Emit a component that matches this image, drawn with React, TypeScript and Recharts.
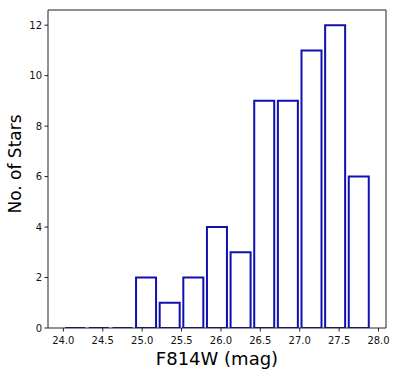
import React from "react";
import { BarChart, Bar, XAxis, YAxis, Label } from "recharts";

// histogram bins (centre of each 0.3 mag bin) and star counts
const magCenters = [24.15, 24.45, 24.75, 25.05, 25.35, 25.65, 25.95, 26.25, 26.55, 26.85, 27.15, 27.45, 27.75];
const starCounts = [0, 0, 0, 2, 1, 2, 4, 3, 9, 9, 11, 12, 6];
const xTicks = [24.0, 24.5, 25.0, 25.5, 26.0, 26.5, 27.0, 27.5, 28.0];
const yTicks = [0, 2, 4, 6, 8, 10, 12];

const data = magCenters.map((c, i) => ({ center: c, count: starCounts[i] }));

const EDGE = "#1010b0";
const AXIS = "#222";
const FONT = "DejaVu Sans";

// open rectangle, drawn as a path so empty bins still show a flat line
const OutlineBar = (props: any) => {
  const { x, y, width, height } = props;
  const d = `M${x},${y + height} L${x},${y} L${x + width},${y} L${x + width},${y + height} Z`;
  return <path d={d} fill="#fff" stroke={EDGE} strokeWidth={2} />;
};

const YTitle = () => (
  <text
    x={15}
    y={164}
    transform="rotate(-90, 15, 164)"
    textAnchor="middle"
    dominantBaseline="central"
    fontFamily={FONT}
    fontSize={17}
    fill="#000"
  >
    No. of Stars
  </text>
);

export default function App() {
  return (
    <div style={{ position: "absolute", left: 0, top: 0 }}>
      <BarChart
        width={399}
        height={374}
        data={data}
        margin={{ top: 9, right: 12, bottom: 0, left: 0 }}
        barCategoryGap="7.5%"
      >
        <XAxis
          xAxisId="b"
          type="number"
          dataKey="center"
          domain={[23.805, 28.095]}
          allowDataOverflow
          ticks={xTicks}
          tickFormatter={(v: number) => v.toFixed(1)}
          height={46}
          tickSize={3.5}
          tickMargin={5}
          stroke={AXIS}
          tick={{ fontFamily: FONT, fontSize: 10, fill: "#111" }}
        >
          <Label
            value="F814W (mag)"
            position="insideBottom"
            offset={9}
            style={{ fontFamily: FONT, fontSize: 18, fill: "#000" }}
          />
        </XAxis>
        <XAxis
          xAxisId="t"
          orientation="top"
          type="number"
          dataKey="center"
          domain={[23.805, 28.095]}
          allowDataOverflow
          height={1}
          tick={false}
          tickLine={false}
          stroke={AXIS}
        />
        <YAxis
          yAxisId="l"
          domain={[0, 12.6]}
          allowDataOverflow
          ticks={yTicks}
          width={48}
          tickSize={3.5}
          tickMargin={2.5}
          stroke={AXIS}
          tick={{ fontFamily: FONT, fontSize: 10, fill: "#111" }}
          label={<YTitle />}
        />
        <YAxis
          yAxisId="r"
          orientation="right"
          domain={[0, 12.6]}
          width={1}
          tick={false}
          tickLine={false}
          stroke={AXIS}
        />
        <Bar
          xAxisId="b"
          yAxisId="l"
          dataKey="count"
          shape={<OutlineBar />}
          isAnimationActive={false}
        />
      </BarChart>
    </div>
  );
}
